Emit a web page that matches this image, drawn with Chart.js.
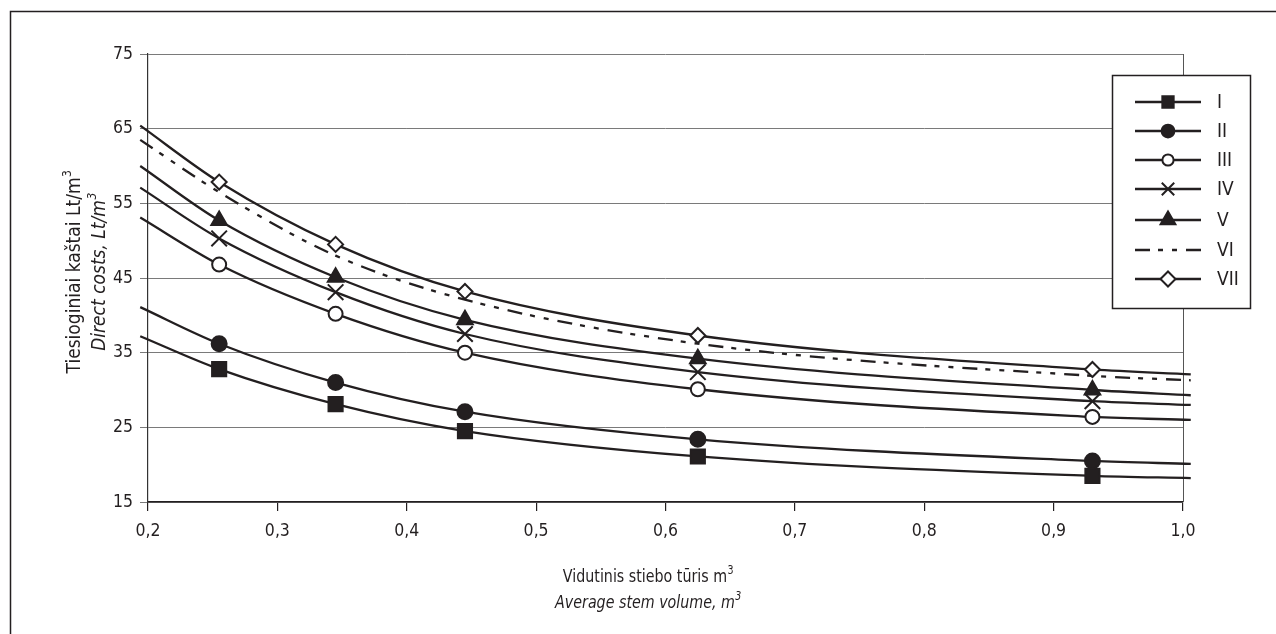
<!DOCTYPE html>
<html><head><meta charset="utf-8">
<script src="https://cdn.jsdelivr.net/npm/chart.js@4/dist/chart.umd.min.js"></script>
<style>html,body{margin:0;padding:0;background:#fff}#wrap{width:1276px;height:634px;position:relative}canvas{display:block}</style>
</head><body><div id="wrap"><canvas id="c" width="1276" height="634"></canvas></div>
<script>
// ---- data ----
const seriesNames = ['I', 'II', 'III', 'IV', 'V', 'VI', 'VII'];
const curveX = [0.194, 0.255, 0.345, 0.445, 0.625, 0.93, 1.006];
const serI   = [37.2, 32.8, 28.1, 24.5, 21.1, 18.5, 18.2];
const serII  = [41.1, 36.2, 31.0, 27.1, 23.4, 20.5, 20.1];
const serIII = [53.1, 46.8, 40.2, 35.0, 30.1, 26.4, 26.0];
const serIV  = [57.1, 50.3, 43.1, 37.5, 32.4, 28.5, 28.0];
const serV   = [60.0, 52.7, 45.1, 39.4, 34.2, 30.0, 29.3];
const serVI  = [63.5, 56.5, 48.0, 42.1, 36.2, 31.9, 31.3];
const serVII = [65.4, 57.85, 49.5, 43.2, 37.3, 32.75, 32.1];
const xTickValues = [0.2, 0.3, 0.4, 0.5, 0.6, 0.7, 0.8, 0.9, 1.0];
const yTickValues = [15, 25, 35, 45, 55, 65, 75];
const xTitle = ['Vidutinis stiebo tūris m', 'Average stem volume, m'];
const yTitle = ['Tiesioginiai kaštai Lt/m', 'Direct costs, Lt/m'];

// ---- styling ----
const INK = '#231f20';
const FONT = "'Liberation Sans Narrow', 'DejaVu Sans Condensed', 'Arial Narrow', sans-serif";
const styles = [
  {pointStyle: 'rect', radius: 10, fill: INK, leg: 0.8},
  {pointStyle: 'circle', radius: 7.5, fill: INK, leg: 0.85},
  {pointStyle: 'circle', radius: 7, fill: '#ffffff', leg: 0.8},
  {pointStyle: 'crossRot', radius: 11, fill: INK, leg: 0.8},
  {pointStyle: 'triangle', radius: 9, fill: INK, leg: 0.95},
  {pointStyle: false, radius: 0, fill: INK, dash: [15, 8, 5, 9, 5, 9]},
  {pointStyle: 'rectRot', radius: 7.5, fill: '#ffffff', leg: 1.0}
];
const allSeries = [serI, serII, serIII, serIV, serV, serVI, serVII];
const lastIdx = curveX.length - 1;

const datasets = allSeries.map((vals, i) => {
  const st = styles[i];
  return {
    label: seriesNames[i],
    data: vals.map((v, k) => ({x: curveX[k], y: v})),
    borderColor: INK,
    borderWidth: 2.3,
    borderDash: st.dash || [],
    backgroundColor: st.fill,
    pointBackgroundColor: st.fill,
    pointBorderColor: INK,
    pointBorderWidth: 2,
    pointStyle: st.pointStyle || 'circle',
    pointRadius: (ctx) => (st.radius && ctx.dataIndex > 0 && ctx.dataIndex < lastIdx) ? st.radius : 0,
    cubicInterpolationMode: 'monotone',
    fill: false,
    clip: false,
    order: 7 - i
  };
});

function fmt(v) { return Number(v).toFixed(1).replace('.', ','); }

function drawSupText(ctx, text, cx, cy, font, supFont, supRise, sx) {
  ctx.save();
  ctx.translate(cx, cy);
  ctx.scale(sx, 1);
  ctx.font = font;
  const w1 = ctx.measureText(text).width;
  ctx.font = supFont;
  const w2 = ctx.measureText('3').width;
  const x0 = -(w1 + w2) / 2;
  ctx.textAlign = 'left';
  ctx.textBaseline = 'middle';
  ctx.font = font;
  ctx.fillText(text, x0, 0);
  ctx.font = supFont;
  ctx.fillText('3', x0 + w1 + 0.5, -supRise);
  ctx.restore();
}

const decor = {
  id: 'decor',
  beforeDraw(chart) {
    const ctx = chart.ctx;
    ctx.save();
    ctx.fillStyle = '#fff';
    ctx.fillRect(0, 0, chart.width, chart.height);
    ctx.strokeStyle = INK;
    ctx.lineWidth = 1.5;
    ctx.beginPath();
    ctx.moveTo(1276, 11.5); ctx.lineTo(10.5, 11.5); ctx.lineTo(10.5, 634);
    ctx.stroke();
    ctx.restore();
  },
  beforeDatasetsDraw(chart) {
    const ctx = chart.ctx, a = chart.chartArea;
    ctx.save();
    ctx.strokeStyle = '#555';
    ctx.lineWidth = 1;
    ctx.beginPath();
    ctx.moveTo(Math.round(a.right) + 0.5, a.top);
    ctx.lineTo(Math.round(a.right) + 0.5, a.bottom);
    ctx.stroke();
    ctx.restore();
  },
  afterDraw(chart) {
    const ctx = chart.ctx;
    ctx.save();
    ctx.fillStyle = INK;
    // x title
    drawSupText(ctx, xTitle[0], 648, 577, '18px ' + FONT, '12px ' + FONT, 6.5, 0.88);
    drawSupText(ctx, xTitle[1], 648, 603, 'italic 18px ' + FONT, 'italic 12px ' + FONT, 6.5, 0.88);
    // y title
    ctx.save();
    ctx.translate(75, 272);
    ctx.rotate(-Math.PI / 2);
    drawSupText(ctx, yTitle[0], 0, 0, '19px ' + FONT, '12px ' + FONT, 7, 1);
    ctx.restore();
    ctx.save();
    ctx.translate(100, 272);
    ctx.rotate(-Math.PI / 2);
    drawSupText(ctx, yTitle[1], 0, 0, 'italic 19px ' + FONT, 'italic 12px ' + FONT, 7, 1);
    ctx.restore();

    // legend box
    const L = 1112.5, T = 75.5, R = 1250.5, B = 308.5;
    ctx.fillStyle = '#fff';
    ctx.fillRect(L, T, R - L, B - T);
    ctx.strokeStyle = INK;
    ctx.lineWidth = 1.5;
    ctx.strokeRect(L, T, R - L, B - T);
    const rows = [102, 131, 160, 189, 220, 250, 279];
    chart.data.datasets.forEach((ds, i) => {
      const y = rows[i];
      const st = styles[i];
      ctx.save();
      ctx.strokeStyle = INK;
      ctx.lineWidth = 2.3;
      ctx.setLineDash(st.dash || []);
      ctx.beginPath();
      ctx.moveTo(1135, y); ctx.lineTo(1201, y);
      ctx.stroke();
      ctx.restore();
      if (st.pointStyle) {
        ctx.save();
        ctx.fillStyle = st.fill;
        ctx.strokeStyle = INK;
        ctx.lineWidth = 2;
        Chart.helpers.drawPoint(ctx, {pointStyle: st.pointStyle, rotation: 0, radius: st.radius * st.leg, borderWidth: 2},
          1168, y);
        ctx.restore();
      }
      ctx.fillStyle = INK;
      ctx.font = '19px ' + FONT;
      ctx.textAlign = 'left';
      ctx.textBaseline = 'middle';
      ctx.fillText(ds.label, 1217, y + 1);
    });
    ctx.restore();
  }
};

new Chart(document.getElementById('c'), {
  type: 'line',
  data: {datasets},
  plugins: [decor],
  options: {
    responsive: false,
    animation: false,
    events: [],
    devicePixelRatio: 1,
    layout: {padding: {top: 54, right: 93, left: 0, bottom: 0}},
    plugins: {legend: {display: false}, tooltip: {enabled: false}, title: {display: false}},
    scales: {
      x: {
        type: 'linear',
        min: 0.2, max: 1.0,
        afterFit(s) { s.height = 132; },
        afterBuildTicks(s) { s.ticks = xTickValues.map(v => ({value: v})); },
        ticks: {
          color: INK, font: {family: FONT, size: 17.5}, padding: 10,
          maxRotation: 0, autoSkip: false,
          callback: (v) => fmt(v)
        },
        grid: {drawOnChartArea: false, drawTicks: true, tickLength: 9, color: INK, lineWidth: 1.2},
        border: {display: true, color: INK, width: 1.5}
      },
      y: {
        type: 'linear',
        min: 15, max: 75,
        afterFit(s) { s.width = 148; },
        afterBuildTicks(s) { s.ticks = yTickValues.map(v => ({value: v})); },
        ticks: {color: INK, font: {family: FONT, size: 17.5}, padding: 7, autoSkip: false},
        grid: {color: '#7a7a7a', lineWidth: 1, tickLength: 8, drawTicks: true},
        border: {display: true, color: '#333', width: 1.2}
      }
    }
  }
});
</script>
</body></html>
